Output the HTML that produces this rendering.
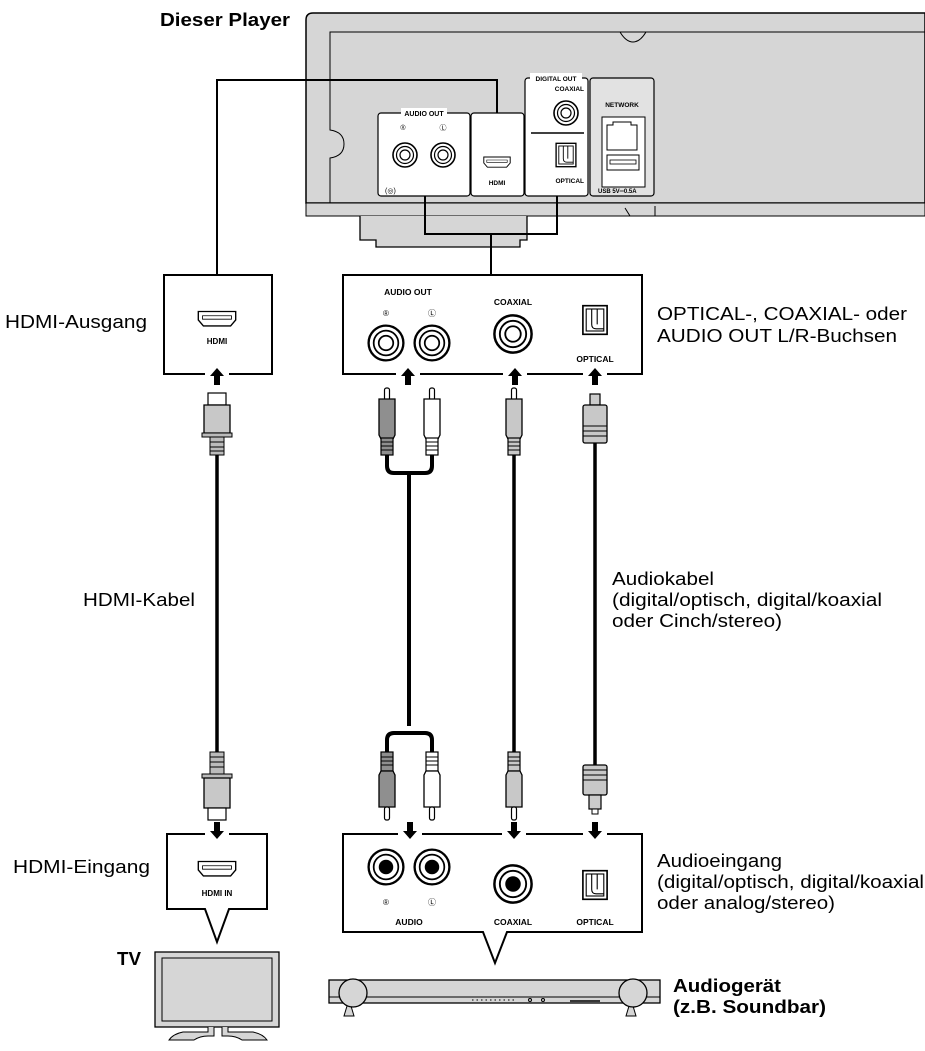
<!DOCTYPE html>
<html><head><meta charset="utf-8"><style>
html,body{margin:0;padding:0;background:#fff}
svg{display:block}
text{font-family:"Liberation Sans",Arial,sans-serif}
</style></head><body>
<svg width="925" height="1051" viewBox="0 0 925 1051" xmlns="http://www.w3.org/2000/svg">
<defs>
<g id="rcaUp">
 <rect x="-2.5" y="0" width="5" height="12" rx="2" fill="#fff" stroke="#000" stroke-width="1.2"/>
 <path d="M-8,11 h16 v36 l-2,4 h-12 l-2,-4z" stroke="#000" stroke-width="1.3"/>
 <rect x="-6" y="50" width="12" height="17" fill="inherit" stroke="#000" stroke-width="1.2"/>
 <path d="M-6,54h12M-6,58h12M-6,62h12" stroke="#000" stroke-width="1"/>
</g>
<g id="rcaDown">
 <rect x="-6" y="0" width="12" height="19" stroke="#000" stroke-width="1.2"/>
 <path d="M-6,5h12M-6,9h12M-6,13h12" stroke="#000" stroke-width="1"/>
 <path d="M-6,19 l-2,4 v32 h16 v-32 l-2,-4z" stroke="#000" stroke-width="1.3"/>
 <rect x="-2.5" y="55" width="5" height="13" rx="2" fill="#fff" stroke="#000" stroke-width="1.2"/>
</g>
<g id="arrowUp"><path d="M0,-9 l-7,8 h4 v9 h6 v-9 h4z" fill="#000"/></g>
<g id="arrowDn"><path d="M0,9 l-7,-8 h4 v-9 h6 v9 h4z" fill="#000"/></g>
<g id="rcaJack"><circle r="12" fill="#fff" stroke="#000" stroke-width="1.6"/><circle r="8.5" fill="none" stroke="#000" stroke-width="1.2"/><circle r="5" fill="none" stroke="#000" stroke-width="1.2"/></g>
<g id="rcaJackIn"><circle r="12" fill="#fff" stroke="#000" stroke-width="1.6"/><circle r="8.5" fill="none" stroke="#000" stroke-width="1.2"/><circle r="5" fill="#000"/></g>
<g id="optJack"><rect x="-11" y="-13" width="22" height="26" fill="#fff" stroke="#000" stroke-width="1.5"/><rect x="-8" y="-10" width="16" height="20" fill="#fff" stroke="#000" stroke-width="1"/><path d="M-3,-10 v14 q0,4 4,4 h7 M2,-10 v14" fill="none" stroke="#000" stroke-width="1"/></g>
<g id="hdmiJack"><path d="M-22,-10 h44 v10 l-6,7 h-32 l-6,-7z" fill="#fff" stroke="#000" stroke-width="1.6"/><path d="M-17,-5 h34 v4 h-34z" fill="none" stroke="#000" stroke-width="1"/></g>
</defs>

<!-- Player -->
<path d="M925,13 H313 q-7,0 -7,7 V203 H925z" fill="#d6d6d6" stroke="#000" stroke-width="1.5"/>
<path d="M925,32 H330 V130 q14,2 14,14 q0,12 -14,14 V203" fill="none" stroke="#000" stroke-width="1"/>
<path d="M620,32 q6,10 13,10 q7,0 13,-10" fill="none" stroke="#000" stroke-width="1"/>
<path d="M306,203 H925 V216 H306z" fill="#d6d6d6" stroke="#000" stroke-width="1"/>
<path d="M360,216 V240 H376 V247 H520 V240 H527 V216" fill="#d6d6d6" stroke="#000" stroke-width="1.3"/>
<path d="M655,216 V206 M630,216 l-5,-8" stroke="#000" stroke-width="1"/>
<!-- panels -->
<rect x="378" y="113" width="92" height="83" rx="3" fill="#fff" stroke="#000" stroke-width="1.2"/>
<rect x="471" y="113" width="53" height="83" rx="3" fill="#fff" stroke="#000" stroke-width="1.2"/>
<rect x="525" y="78" width="63" height="118" rx="3" fill="#fff" stroke="#000" stroke-width="1.2"/>
<rect x="590" y="78" width="64" height="118" rx="3" fill="#e2e2e2" stroke="#000" stroke-width="1.2"/>
<rect x="401" y="108" width="46" height="10" fill="#fff"/>
<text x="424" y="116" font-size="7" font-weight="bold" text-anchor="middle">AUDIO OUT</text>
<text x="403" y="130" font-size="7" text-anchor="middle">®</text>
<text x="443" y="130" font-size="7" text-anchor="middle">Ⓛ</text>
<use href="#rcaJack" x="405" y="155"/>
<use href="#rcaJack" x="443" y="155"/>
<text x="385" y="193" font-size="7">(◎)</text>
<use href="#hdmiJack" x="497" y="163" transform="translate(497 163) scale(0.6) translate(-497 -163)"/>
<text x="497" y="185" font-size="6.5" font-weight="bold" text-anchor="middle">HDMI</text>
<rect x="530" y="73" width="52" height="10" fill="#fff"/>
<text x="556" y="81" font-size="6.5" font-weight="bold" text-anchor="middle">DIGITAL OUT</text>
<text x="584" y="91" font-size="6.5" font-weight="bold" text-anchor="end">COAXIAL</text>
<use href="#rcaJack" x="566" y="113"/>
<path d="M531,133 H584" stroke="#000" stroke-width="1.5"/>
<use href="#optJack" x="566" y="155" transform="translate(566 155) scale(0.9) translate(-566 -155)"/>
<text x="584" y="183" font-size="6.5" font-weight="bold" text-anchor="end">OPTICAL</text>
<text x="622" y="107" font-size="6.5" font-weight="bold" text-anchor="middle">NETWORK</text>
<rect x="602" y="117" width="43" height="70" fill="#fff" stroke="#000" stroke-width="1"/>
<path d="M607,150 V125 h6 v-3 h18 v3 h6 v25z" fill="#fff" stroke="#000" stroke-width="1"/>
<rect x="607" y="155" width="32" height="15" fill="#fff" stroke="#000" stroke-width="1"/>
<rect x="610" y="160" width="26" height="4" fill="#fff" stroke="#000" stroke-width="0.8"/>
<text x="598" y="193" font-size="6" font-weight="bold">USB  5V═0.5A</text>

<!-- player connection lines -->
<path d="M217,275 V80 H497 V113" fill="none" stroke="#000" stroke-width="2"/>
<path d="M425,196 V234 H557 V196 M491,234 V275" fill="none" stroke="#000" stroke-width="2"/>

<!-- upper boxes -->
<rect x="164" y="275" width="108" height="99" fill="#fff" stroke="#000" stroke-width="2"/>
<rect x="343" y="275" width="299" height="99" fill="#fff" stroke="#000" stroke-width="2"/>
<rect x="205" y="370" width="24" height="8" fill="#fff"/>
<rect x="396" y="370" width="24" height="8" fill="#fff"/>
<rect x="503" y="370" width="24" height="8" fill="#fff"/>
<rect x="583" y="370" width="24" height="8" fill="#fff"/>
<use href="#hdmiJack" x="217" y="320" transform="translate(217 320) scale(0.85) translate(-217 -320)"/>
<text x="217" y="344" font-size="8" font-weight="bold" text-anchor="middle">HDMI</text>
<text x="408" y="295" font-size="8.5" font-weight="bold" text-anchor="middle">AUDIO OUT</text>
<text x="386" y="316" font-size="8" text-anchor="middle">®</text>
<text x="432" y="316" font-size="8" text-anchor="middle">Ⓛ</text>
<use href="#rcaJack" x="386" y="343" transform="translate(386 343) scale(1.45) translate(-386 -343)"/>
<use href="#rcaJack" x="432" y="343" transform="translate(432 343) scale(1.45) translate(-432 -343)"/>
<text x="513" y="305" font-size="8.5" font-weight="bold" text-anchor="middle">COAXIAL</text>
<use href="#rcaJack" x="513" y="334" transform="translate(513 334) scale(1.55) translate(-513 -334)"/>
<use href="#optJack" x="595" y="320" transform="translate(595 320) scale(1.1) translate(-595 -320)"/>
<text x="595" y="362" font-size="8.5" font-weight="bold" text-anchor="middle">OPTICAL</text>
<use href="#arrowUp" x="217" y="377"/>
<use href="#arrowUp" x="408" y="377"/>
<use href="#arrowUp" x="515" y="377"/>
<use href="#arrowUp" x="595" y="377"/>

<!-- cables -->
<path d="M217,455 V752" stroke="#000" stroke-width="3.5"/>
<path d="M387,455 V466 q0,7 7,7 H425 q7,0 7,-7 V455 M409,473 V726 M409,733 H394 q-7,0 -7,7 V752 M409,733 H425 q7,0 7,7 V752" fill="none" stroke="#000" stroke-width="4"/>
<path d="M514,455 V752" stroke="#000" stroke-width="3.5"/>
<path d="M595,443 V765" stroke="#000" stroke-width="3.5"/>

<!-- upper plugs -->
<g>
 <rect x="208" y="393" width="18" height="12" fill="#fff" stroke="#000" stroke-width="1.2"/>
 <path d="M204,405 h26 v28 h-26z" fill="#c8c8c8" stroke="#000" stroke-width="1.3"/>
 <rect x="202" y="433" width="30" height="4" fill="#bbb" stroke="#000" stroke-width="1"/>
 <rect x="210" y="437" width="14" height="18" fill="#bbb" stroke="#000" stroke-width="1"/>
 <path d="M210,442h14M210,447h14M210,451h14" stroke="#000"/>
</g>
<use href="#rcaUp" transform="translate(387 388)" fill="#8f8f8f"/>
<use href="#rcaUp" transform="translate(432 388)" fill="#ffffff"/>
<use href="#rcaUp" transform="translate(514 388)" fill="#c8c8c8"/>
<g>
 <rect x="590" y="394" width="10" height="11" fill="#ccc" stroke="#000" stroke-width="1.2"/>
 <rect x="583" y="405" width="24" height="38" rx="2" fill="#c8c8c8" stroke="#000" stroke-width="1.3"/>
 <path d="M583,426h24M583,431h24M583,436h24" stroke="#000"/>
</g>

<!-- lower plugs -->
<g>
 <rect x="210" y="752" width="14" height="22" fill="#bbb" stroke="#000" stroke-width="1"/>
 <path d="M210,757h14M210,762h14M210,767h14" stroke="#000"/>
 <rect x="202" y="774" width="30" height="4" fill="#bbb" stroke="#000" stroke-width="1"/>
 <path d="M204,778 h26 v30 h-26z" fill="#c8c8c8" stroke="#000" stroke-width="1.3"/>
 <rect x="208" y="808" width="18" height="12" fill="#fff" stroke="#000" stroke-width="1.2"/>
</g>
<use href="#rcaDown" transform="translate(387 752)" fill="#8f8f8f"/>
<use href="#rcaDown" transform="translate(432 752)" fill="#ffffff"/>
<use href="#rcaDown" transform="translate(514 752)" fill="#c8c8c8"/>
<g>
 <rect x="583" y="765" width="24" height="30" rx="2" fill="#c8c8c8" stroke="#000" stroke-width="1.3"/>
 <path d="M583,770h24M583,775h24M583,780h24" stroke="#000"/>
 <rect x="589" y="795" width="12" height="14" fill="#ccc" stroke="#000" stroke-width="1.2"/>
 <rect x="592" y="809" width="6" height="5" fill="#fff" stroke="#000" stroke-width="1"/>
</g>

<!-- lower boxes -->
<path d="M167,834 H267 V909 H229 L217,942 L205,909 H167z" fill="#fff" stroke="#000" stroke-width="2"/>
<path d="M343,834 H642 V932 H507 L495,963 L483,932 H343z" fill="#fff" stroke="#000" stroke-width="2"/>
<rect x="205" y="830" width="24" height="8" fill="#fff"/>
<rect x="398" y="830" width="24" height="8" fill="#fff"/>
<rect x="502" y="830" width="24" height="8" fill="#fff"/>
<rect x="583" y="830" width="24" height="8" fill="#fff"/>
<use href="#arrowDn" x="217" y="830"/>
<use href="#arrowDn" x="410" y="830"/>
<use href="#arrowDn" x="514" y="830"/>
<use href="#arrowDn" x="595" y="830"/>
<use href="#hdmiJack" x="217" y="870" transform="translate(217 870) scale(0.85) translate(-217 -870)"/>
<text x="217" y="896" font-size="8" font-weight="bold" text-anchor="middle">HDMI IN</text>
<use href="#rcaJackIn" x="386" y="867" transform="translate(386 867) scale(1.45) translate(-386 -867)"/>
<use href="#rcaJackIn" x="432" y="867" transform="translate(432 867) scale(1.45) translate(-432 -867)"/>
<text x="386" y="905" font-size="8" text-anchor="middle">®</text>
<text x="432" y="905" font-size="8" text-anchor="middle">Ⓛ</text>
<text x="409" y="925" font-size="8.5" font-weight="bold" text-anchor="middle">AUDIO</text>
<use href="#rcaJackIn" x="513" y="884" transform="translate(513 884) scale(1.55) translate(-513 -884)"/>
<text x="513" y="925" font-size="8.5" font-weight="bold" text-anchor="middle">COAXIAL</text>
<use href="#optJack" x="595" y="885" transform="translate(595 885) scale(1.1) translate(-595 -885)"/>
<text x="595" y="925" font-size="8.5" font-weight="bold" text-anchor="middle">OPTICAL</text>

<!-- TV -->
<rect x="155" y="952" width="124" height="75" fill="#d6d6d6" stroke="#000" stroke-width="1.3"/>
<rect x="162" y="958" width="110" height="63" fill="#d6d6d6" stroke="#000" stroke-width="1"/>
<path d="M208,1027 v5 h-25 q-10,2 -14,8 h25 q6,-4 14,-4 h6 v-9 M228,1027 v5 h25 q10,2 14,8 h-25 q-6,-4 -14,-4 h-6 v-9" fill="#d6d6d6" stroke="#000" stroke-width="1"/>

<!-- Soundbar -->
<rect x="329" y="980" width="331" height="23" fill="#d6d6d6" stroke="#000" stroke-width="1.3"/>
<path d="M329,997 H660" stroke="#000" stroke-width="1"/>
<path d="M347,1006 l-3,10 h10 l-3,-10z M629,1006 l-3,10 h10 l-3,-10z" fill="#d6d6d6" stroke="#000"/>
<circle cx="353" cy="993" r="14" fill="#d6d6d6" stroke="#000" stroke-width="1.3"/>
<circle cx="633" cy="993" r="14" fill="#d6d6d6" stroke="#000" stroke-width="1.3"/>
<path d="M472,1000 h42" stroke="#000" stroke-width="1" stroke-dasharray="1.5 3"/>
<circle cx="530" cy="1000" r="1.5" fill="none" stroke="#000"/><circle cx="543" cy="1000" r="1.5" fill="none" stroke="#000"/>
<path d="M570,1001 h30" stroke="#000" stroke-width="1.5"/>

<!-- labels -->
<g font-size="18">
<text x="160" y="26" font-weight="bold" textLength="130" lengthAdjust="spacingAndGlyphs">Dieser Player</text>
<text x="5" y="328" textLength="142" lengthAdjust="spacingAndGlyphs">HDMI-Ausgang</text>
<text x="657" y="320" textLength="250" lengthAdjust="spacingAndGlyphs">OPTICAL-, COAXIAL- oder</text>
<text x="657" y="342" textLength="240" lengthAdjust="spacingAndGlyphs">AUDIO OUT L/R-Buchsen</text>
<text x="83" y="606" textLength="112" lengthAdjust="spacingAndGlyphs">HDMI-Kabel</text>
<text x="612" y="585" textLength="102" lengthAdjust="spacingAndGlyphs">Audiokabel</text>
<text x="612" y="606" textLength="270" lengthAdjust="spacingAndGlyphs">(digital/optisch, digital/koaxial</text>
<text x="612" y="627" textLength="170" lengthAdjust="spacingAndGlyphs">oder Cinch/stereo)</text>
<text x="13" y="873" textLength="137" lengthAdjust="spacingAndGlyphs">HDMI-Eingang</text>
<text x="657" y="867" textLength="125" lengthAdjust="spacingAndGlyphs">Audioeingang</text>
<text x="657" y="888" textLength="267" lengthAdjust="spacingAndGlyphs">(digital/optisch, digital/koaxial</text>
<text x="657" y="909" textLength="178" lengthAdjust="spacingAndGlyphs">oder analog/stereo)</text>
<text x="117" y="965" font-weight="bold" textLength="24" lengthAdjust="spacingAndGlyphs">TV</text>
<text x="673" y="992" font-weight="bold" textLength="108" lengthAdjust="spacingAndGlyphs">Audiogerät</text>
<text x="673" y="1013" font-weight="bold" textLength="153" lengthAdjust="spacingAndGlyphs">(z.B. Soundbar)</text>
</g>
</svg>
</body></html>
